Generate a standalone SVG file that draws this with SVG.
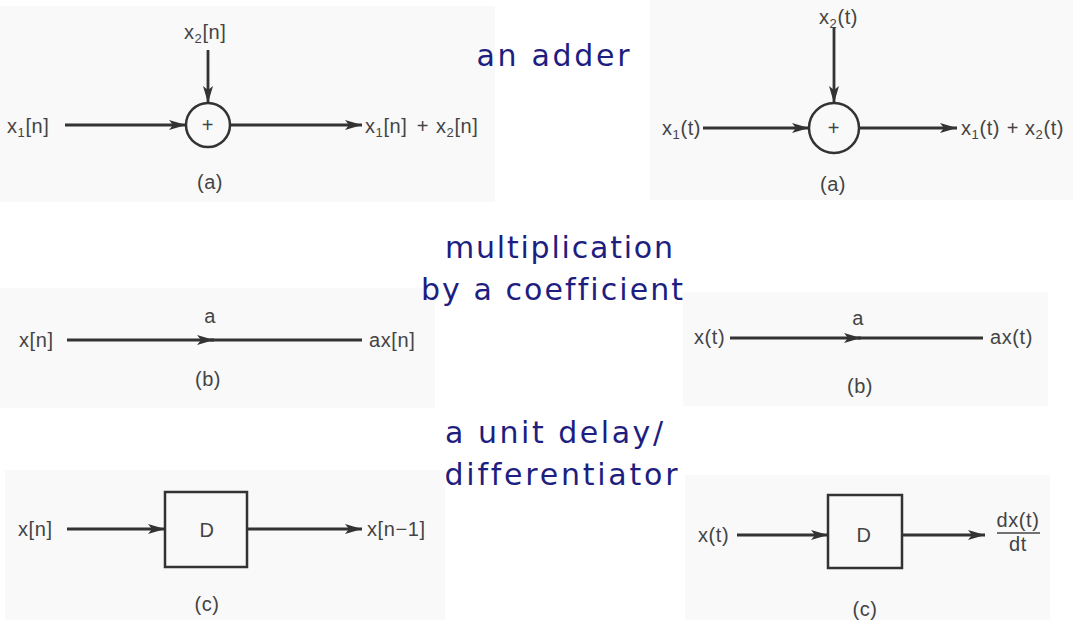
<svg xmlns="http://www.w3.org/2000/svg" width="1073" height="625" viewBox="0 0 1073 625">
<style>
.bg{fill:#f9f9f9}
.title{font-family:"DejaVu Sans",Verdana,sans-serif;font-size:30px;fill:#1e1e80;text-anchor:middle;font-variant-ligatures:none;font-feature-settings:"liga" 0}
.lbl{font-family:"Liberation Sans",Arial,sans-serif;font-size:20px;fill:#444;letter-spacing:0.6px}
.sub{font-size:13px}
.mid{text-anchor:middle}
.ln{stroke:#333;stroke-width:2.8;fill:none}
.shape{stroke:#333;stroke-width:2.5;fill:none}
</style>
<defs>
<marker id="ah" markerUnits="userSpaceOnUse" markerWidth="17" markerHeight="11" refX="17" refY="5" orient="auto">
<path d="M0,0 L17,5 L0,10 L4,5 z" fill="#333"/>
</marker>
</defs>
<rect width="1073" height="625" fill="#ffffff"/>
<g id="panels">
<rect class="bg" x="0" y="6" width="495" height="196"/>
<rect class="bg" x="650" y="0" width="423" height="200"/>
<rect class="bg" x="0" y="288" width="435" height="120"/>
<rect class="bg" x="683" y="292" width="365" height="114"/>
<rect class="bg" x="5" y="470" width="440" height="150"/>
<rect class="bg" x="685" y="475" width="365" height="145"/>
</g>
<g id="titles">
<text class="title" x="553" y="66" textLength="153" lengthAdjust="spacing">an adder</text>
<text class="title" x="559" y="258" textLength="228" lengthAdjust="spacing">multiplication</text>
<text class="title" x="552" y="300" textLength="262" lengthAdjust="spacing">by a coefficient</text>
<text class="title" x="554" y="443" textLength="218" lengthAdjust="spacing">a unit delay/</text>
<text class="title" x="561" y="485" textLength="233" lengthAdjust="spacing">differentiator</text>
</g>
<g id="adder-dt">
<circle class="shape" cx="208" cy="125" r="22"/>
<text class="lbl mid" x="208" y="132" fill="#777">+</text>
</g>
<g id="adder-ct">
<circle class="shape" cx="834" cy="128" r="25"/>
<text class="lbl mid" x="834" y="135" fill="#777">+</text>
</g>
<g id="delay-dt">
<rect class="shape" x="165" y="492" width="82" height="75"/>
<text class="lbl mid" x="207" y="537">D</text>
</g>
<g id="diff-ct">
<rect class="shape" x="828" y="495" width="74" height="73"/>
<text class="lbl mid" x="864" y="542">D</text>
</g>
<g id="connectors">
<line class="ln" x1="65" y1="125" x2="186" y2="125" marker-end="url(#ah)"/>
<line class="ln" x1="208" y1="50" x2="208" y2="103" marker-end="url(#ah)"/>
<line class="ln" x1="230" y1="125" x2="362" y2="125" marker-end="url(#ah)"/>
<line class="ln" x1="703" y1="128" x2="809" y2="128" marker-end="url(#ah)"/>
<line class="ln" x1="834" y1="27" x2="834" y2="103" marker-end="url(#ah)"/>
<line class="ln" x1="859" y1="128" x2="957" y2="128" marker-end="url(#ah)"/>
<line class="ln" x1="67" y1="340" x2="214" y2="340" marker-end="url(#ah)"/>
<line class="ln" x1="210" y1="340" x2="362" y2="340"/>
<line class="ln" x1="730" y1="338" x2="861" y2="338" marker-end="url(#ah)"/>
<line class="ln" x1="857" y1="338" x2="983" y2="338"/>
<line class="ln" x1="67" y1="529" x2="165" y2="529" marker-end="url(#ah)"/>
<line class="ln" x1="247" y1="529" x2="362" y2="529" marker-end="url(#ah)"/>
<line class="ln" x1="737" y1="535" x2="828" y2="535" marker-end="url(#ah)"/>
<line class="ln" x1="902" y1="535" x2="985" y2="535" marker-end="url(#ah)"/>
</g>
<g id="labels">
<text class="lbl" x="7" y="133">x<tspan class="sub" dy="4">1</tspan><tspan dy="-4">[n]</tspan></text>
<text class="lbl" x="184" y="39">x<tspan class="sub" dy="4">2</tspan><tspan dy="-4">[n]</tspan></text>
<text class="lbl" x="365" y="133">x<tspan class="sub" dy="4">1</tspan><tspan dy="-4">[n]</tspan></text>
<text class="lbl mid" x="423" y="133">+</text>
<text class="lbl" x="436" y="133">x<tspan class="sub" dy="4">2</tspan><tspan dy="-4">[n]</tspan></text>
<text class="lbl mid" x="210" y="189">(a)</text>
<text class="lbl" x="662" y="135">x<tspan class="sub" dy="4">1</tspan><tspan dy="-4">(t)</tspan></text>
<text class="lbl" x="819" y="24">x<tspan class="sub" dy="4">2</tspan><tspan dy="-4">(t)</tspan></text>
<text class="lbl" x="961" y="135">x<tspan class="sub" dy="4">1</tspan><tspan dy="-4">(t)</tspan></text>
<text class="lbl mid" x="1013" y="135">+</text>
<text class="lbl" x="1025" y="135">x<tspan class="sub" dy="4">2</tspan><tspan dy="-4">(t)</tspan></text>
<text class="lbl mid" x="833" y="191">(a)</text>
<text class="lbl" x="19" y="347">x[n]</text>
<text class="lbl mid" x="210" y="323">a</text>
<text class="lbl" x="369" y="347">ax[n]</text>
<text class="lbl mid" x="208" y="386">(b)</text>
<text class="lbl" x="694" y="344">x(t)</text>
<text class="lbl mid" x="858" y="325">a</text>
<text class="lbl" x="990" y="344">ax(t)</text>
<text class="lbl mid" x="860" y="393">(b)</text>
<text class="lbl" x="18" y="536">x[n]</text>
<text class="lbl" x="367" y="536">x[n−1]</text>
<text class="lbl mid" x="207" y="611">(c)</text>
<text class="lbl" x="698" y="542">x(t)</text>
<text class="lbl mid" x="1018" y="527">dx(t)</text>
<line x1="997" y1="533" x2="1040" y2="533" stroke="#444" stroke-width="1.5"/>
<text class="lbl mid" x="1018" y="551">dt</text>
<text class="lbl mid" x="865" y="616">(c)</text>
</g>
</svg>
